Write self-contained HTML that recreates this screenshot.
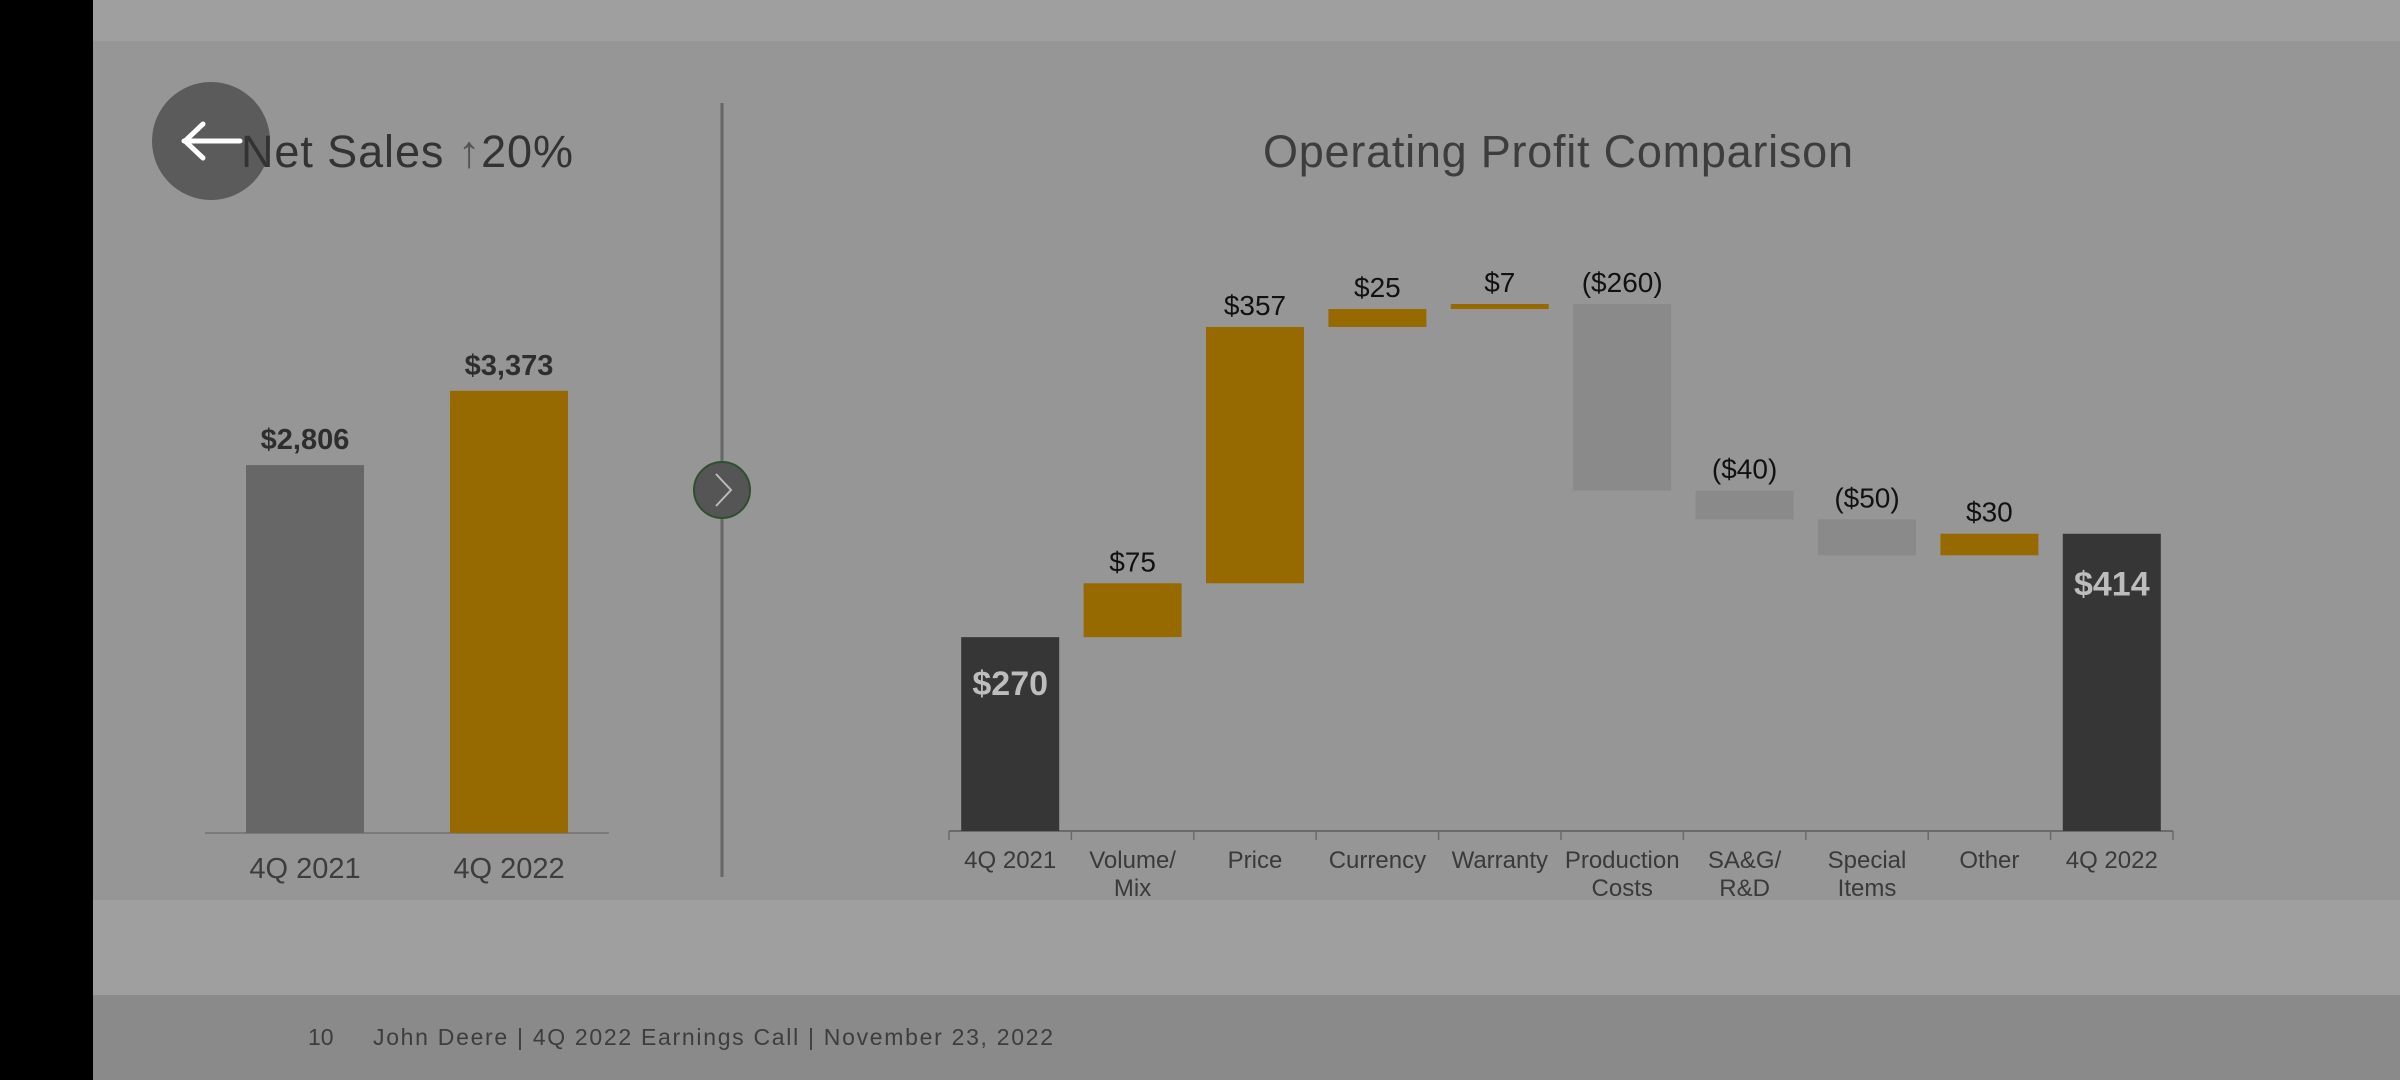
<!DOCTYPE html>
<html><head><meta charset="utf-8">
<style>
html,body{margin:0;padding:0;width:2400px;height:1080px;overflow:hidden;background:#969696;}
svg{display:block;font-family:"Liberation Sans",sans-serif;}
</style></head>
<body>
<svg id="c" width="2400" height="1080" viewBox="0 0 2400 1080" xmlns="http://www.w3.org/2000/svg">
<rect x="0" y="0" width="2400" height="1080" fill="#969696"/>
<rect x="93" y="0" width="2307" height="41" fill="#9f9f9f"/>
<rect x="93" y="900" width="2307" height="95" fill="#9f9f9f"/>
<rect x="93" y="995" width="2307" height="85" fill="#8a8a8a"/>
<rect x="0" y="0" width="93" height="1080" fill="#000"/>
<text x="308" y="1045" font-size="23" fill="#3d3d3d">10</text>
<text x="373" y="1045" font-size="23" fill="#3d3d3d" textLength="680">John Deere | 4Q 2022 Earnings Call | November 23, 2022</text>
<text x="1558" y="167" font-size="45" fill="#3d3d3d" text-anchor="middle" textLength="590">Operating Profit Comparison</text>
<line x1="722" y1="103" x2="722" y2="877" stroke="#666" stroke-width="3"/>
<g>
<circle cx="211" cy="141" r="59" fill="#5b5b5b"/>
<path d="M184 141 H240 M203 124 L185 141 L203 158" stroke="#fff" stroke-width="5" fill="none" stroke-linecap="round"/>
</g>
<text x="241" y="167" font-size="45" fill="#333" textLength="332" lengthAdjust="spacing">Net Sales <tspan fill="#555">↑</tspan>20%</text>
<g>
<circle cx="722" cy="490" r="28" fill="#555" stroke="#2f4f2f" stroke-width="2"/>
<path d="M716 474 L731 490 L716 506" stroke="#bbb" stroke-width="2" fill="none"/>
</g>
<g id="left"></g>
<g id="right"></g>
</svg>
<script>
const salesCats = ["4Q 2021","4Q 2022"];
const salesVals = [2806, 3373];
const salesLabels = ["$2,806","$3,373"];
const wfCats = [["4Q 2021"],["Volume/","Mix"],["Price"],["Currency"],["Warranty"],["Production","Costs"],["SA&G/","R&D"],["Special","Items"],["Other"],["4Q 2022"]];
const wfDeltas = [270, 75, 357, 25, 7, -260, -40, -50, 30, 414];
const wfLabels = ["$270","$75","$357","$25","$7","($260)","($40)","($50)","$30","$414"];
const NS="http://www.w3.org/2000/svg";
function mk(tag, attrs, parent, txt){const e=document.createElementNS(NS,tag);for(const k in attrs)e.setAttribute(k,attrs[k]);if(txt!==undefined)e.textContent=txt;parent.appendChild(e);return e;}
const L=document.getElementById('left');
const lBase=833, lScale=0.1311;
const lx = i => 305 + i*204;
let ax=mk('line',{x1:205,y1:lBase,x2:609,y2:lBase,stroke:'#7a7a7a','stroke-width':2},L);


salesVals.forEach((v,i)=>{
  const h=v*lScale;
  const r=mk('rect',{x:lx(i)-59,y:lBase-h,width:118,height:h,fill:i===0?'#676767':'#976a00'},L);
  
  
  const t=mk('text',{x:lx(i),y:lBase-h-16,'font-size':29,'font-weight':'bold',fill:'#2e2e2e','text-anchor':'middle'},L,salesLabels[i]);
  
  
  const c=mk('text',{x:lx(i),y:878,'font-size':29,fill:'#3d3d3d','text-anchor':'middle'},L,salesCats[i]);
  
  
});
const R=document.getElementById('right');
const wBase=831, wScale=0.718, x0=949, step=122.4, bw=98;
const wx = i => x0 + step*i + step/2;
const wy = v => wBase - v*wScale;
let wax=mk('line',{x1:x0,y1:wBase,x2:x0+step*10,y2:wBase,stroke:'#6a6a6a','stroke-width':2},R);


for(let i=0;i<=10;i++){
  const tk=mk('line',{x1:x0+step*i,y1:wBase,x2:x0+step*i,y2:wBase+9,stroke:'#6a6a6a','stroke-width':1.5},R);
  
  
}
let cum=0;
wfDeltas.forEach((d,i)=>{
  let top,bot,fill;
  const last = i===wfDeltas.length-1;
  if(i===0||last){bot=0;top=d;fill='#363636';cum=d;}
  else{const s=cum;cum+=d;top=Math.max(s,cum);bot=Math.min(s,cum);fill=d>=0?'#976a00':'#8a8a8a';}
  const r=mk('rect',{x:wx(i)-bw/2,y:wy(top),width:bw,height:wy(bot)-wy(top),fill:fill},R);
  
  
  let t;
  if(i===0||last){
    t=mk('text',{x:wx(i),y:wy(top)+(last?62:58),'font-size':34,'font-weight':'bold',fill:'#bdbdbd','text-anchor':'middle'},R,wfLabels[i]);
  } else {
    t=mk('text',{x:wx(i),y:wy(top)-12,'font-size':28,fill:'#111','text-anchor':'middle'},R,wfLabels[i]);
  }
  
  
  wfCats[i].forEach((line,j)=>{
    const c=mk('text',{x:wx(i),y:868+j*28,'font-size':24,fill:'#3a3a3a','text-anchor':'middle'},R,line);
    
    
  });
});
</script>
</body></html>
